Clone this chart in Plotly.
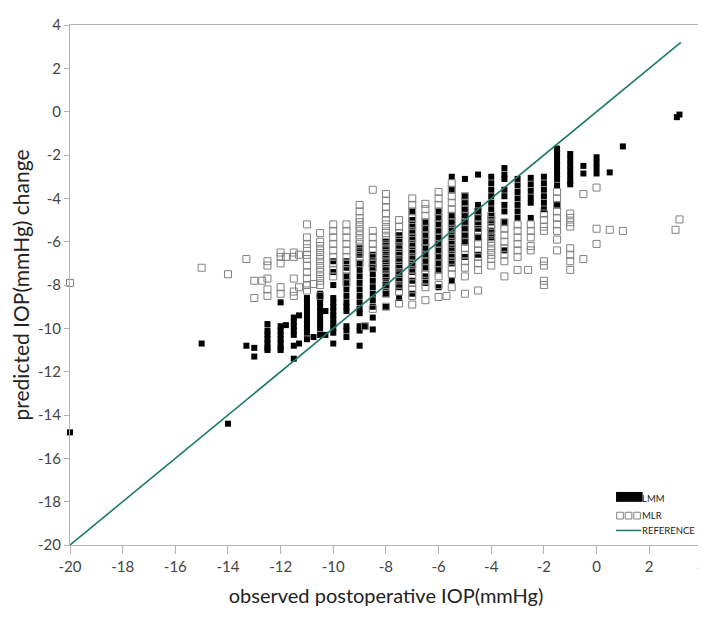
import plotly.graph_objects as go

# observed change (x) -> predicted change (y)
LMM_COLUMNS = {
    -20.0: [-14.8],
    -15.0: [-10.7],
    -14.0: [-14.4],
    -13.3: [-10.8],
    -13.0: [-10.9, -11.3],
    -12.5: [-9.8, -10.1, -10.3, -10.5, -10.7, -10.9, -11.0],
    -12.0: [-8.8, -9.9, -10.1, -10.3, -10.5, -10.7, -10.9, -11.0],
    -11.8: [-9.85],
    -11.5: [-9.5, -9.7, -9.9, -10.1, -10.3, -10.8, -11.4],
    -11.3: [-9.4, -10.7],
    -11.0: [-8.6, -8.8, -9.0, -9.2, -9.4, -9.6, -9.8, -10.0, -10.2, -10.5],
    -10.75: [-10.4],
    -10.5: [-8.4, -8.6, -8.8, -9.0, -9.2, -9.4, -9.6, -9.8, -10.0, -10.3],
    -10.3: [-9.2, -10.3],
    -10.0: [-6.9, -7.4, -8.0, -8.6, -8.8, -9.0, -9.2, -9.4, -9.6, -9.8, -10.0, -10.2, -10.7],
    -9.5: [-6.9, -7.2, -7.6, -7.9, -8.2, -8.5, -8.8, -9.0, -9.2, -9.9, -10.1, -10.4],
    -9.0: [-6.3, -6.6, -7.0, -7.3, -7.6, -7.9, -8.2, -8.5, -8.8, -9.1, -9.3, -9.9, -10.1, -10.8],
    -8.8: [-9.9],
    -8.5: [-6.6, -6.9, -7.2, -7.5, -7.8, -8.1, -8.4, -8.7, -9.0, -9.5, -10.05],
    -8.0: [-6.0, -6.3, -6.6, -6.9, -7.2, -7.5, -7.8, -8.1, -8.4, -9.0],
    -7.5: [-5.7, -6.0, -6.3, -6.6, -6.9, -7.2, -7.5, -7.8, -8.1, -8.6],
    -7.0: [-4.6, -5.0, -5.3, -5.6, -5.9, -6.2, -6.5, -6.8, -7.1, -7.4, -7.8, -8.4],
    -6.5: [-5.1, -5.4, -5.7, -6.0, -6.3, -6.6, -6.9, -7.2, -7.6, -7.9],
    -6.0: [-4.6, -4.9, -5.2, -5.5, -5.8, -6.1, -6.4, -6.7, -7.0, -7.3, -8.1],
    -5.5: [-3.0, -3.6, -4.8, -5.0, -5.2, -5.5, -5.8, -6.1, -6.4, -6.7, -7.0, -7.8],
    -5.0: [-3.1, -3.9, -4.2, -4.5, -4.8, -5.1, -5.4, -5.7, -6.0, -6.7],
    -4.5: [-2.9, -4.3, -4.5, -4.7, -4.9, -5.1, -5.4, -5.8, -6.6],
    -4.0: [-3.0, -3.3, -3.6, -3.9, -4.2, -4.5, -4.8, -5.1, -5.5, -5.8],
    -3.5: [-2.6, -2.9, -3.1, -3.6, -3.9, -4.3, -4.6, -5.1, -6.4],
    -3.0: [-3.1, -3.4, -3.7, -4.0, -4.3, -4.6, -4.9],
    -2.5: [-3.05, -3.35, -3.65, -3.95, -4.2, -4.9],
    -2.0: [-3.0, -3.3, -3.6, -3.9, -4.2, -4.5],
    -1.5: [-1.7, -1.9, -2.1, -2.3, -2.5, -2.7, -2.9, -3.1, -3.4, -4.3],
    -1.0: [-1.95, -2.2, -2.45, -2.7, -2.95, -3.2, -3.35],
    -0.5: [-2.5, -2.85],
    0.0: [-2.1, -2.35, -2.6, -2.85],
    0.5: [-2.8],
    1.0: [-1.6],
    3.05: [-0.25],
    3.15: [-0.13],
}

MLR_COLUMNS = {
    -20.0: [-7.9],
    -15.0: [-7.2],
    -14.0: [-7.5],
    -13.3: [-6.8],
    -13.0: [-7.8, -8.6],
    -12.7: [-7.8],
    -12.5: [-6.9, -7.1, -7.7, -8.2, -8.5],
    -12.0: [-6.5, -6.7, -7.0, -8.1, -8.4],
    -11.8: [-6.7],
    -11.5: [-6.5, -6.7, -7.7, -8.3, -8.5],
    -11.3: [-6.6, -8.1],
    -11.0: [-5.2, -5.8, -6.1, -6.3, -6.6, -6.8, -7.1, -7.4, -7.7, -8.0, -8.25],
    -10.75: [-7.95],
    -10.5: [-5.6, -6.0, -6.2, -6.4, -6.6, -6.8, -7.0, -7.2, -7.4, -7.6, -7.8, -8.0, -8.5],
    -10.0: [-5.2, -5.5, -5.8, -6.1, -6.4, -6.7, -7.0, -7.3, -7.6],
    -9.5: [-5.2, -5.5, -5.8, -6.1, -6.4, -6.7, -7.0, -7.3, -7.6, -7.9],
    -9.0: [-4.3, -4.6, -4.9, -5.1, -5.3, -5.5, -5.7, -5.9, -6.1, -6.3, -6.5, -6.7, -7.0],
    -8.8: [-9.9],
    -8.5: [-3.6, -5.5, -5.8, -6.1, -6.4, -6.7, -7.0, -7.2, -9.1],
    -8.0: [-3.8, -4.1, -4.4, -4.7, -5.0, -5.2, -5.4, -5.6, -5.8, -6.0, -6.2, -6.4,
           -6.6, -6.8, -7.0, -7.3, -7.6, -8.0, -8.4, -9.0],
    -7.5: [-5.0, -5.3, -5.6, -5.9, -6.2, -6.5, -6.8, -7.1, -7.4, -7.7, -8.0, -8.3, -8.85],
    -7.0: [-4.0, -4.3, -4.6, -4.9, -5.2, -5.5, -5.8, -6.1, -6.4, -6.7, -7.0, -7.3,
           -7.6, -7.9, -8.2, -8.5, -8.9],
    -6.5: [-4.25, -4.5, -4.8, -5.1, -5.4, -5.7, -6.0, -6.3, -6.6, -6.9, -7.2, -7.5,
           -7.8, -8.1, -8.7],
    -6.0: [-3.7, -4.0, -4.3, -4.6, -4.9, -5.2, -5.5, -5.8, -6.1, -6.4, -6.7, -7.0,
           -7.3, -7.6, -8.0, -8.55],
    -5.7: [-8.5],
    -5.5: [-3.3, -3.6, -3.9, -4.2, -4.5, -4.8, -5.1, -5.4, -5.7, -6.0, -6.3, -6.6,
           -6.9, -7.2, -7.5, -8.1],
    -5.0: [-3.9, -4.2, -4.5, -4.8, -5.1, -5.4, -5.7, -6.0, -6.3, -6.6, -6.9, -7.2,
           -7.6, -8.4],
    -4.5: [-4.6, -4.9, -5.2, -5.5, -5.8, -6.1, -6.4, -6.7, -7.0, -7.3, -8.25],
    -4.0: [-4.8, -5.0, -5.2, -5.4, -5.6, -5.8, -6.0, -6.2, -6.4, -6.6, -6.8, -7.1],
    -3.5: [-5.1, -5.4, -5.7, -6.0, -6.3, -6.6, -6.9, -7.6],
    -3.0: [-5.2, -5.5, -5.8, -6.1, -6.4, -6.7, -7.3],
    -2.6: [-7.3],
    -2.5: [-5.2, -5.5, -5.8, -6.2, -6.4],
    -2.0: [-4.7, -5.0, -5.3, -5.5, -6.9, -7.1, -7.8, -8.0],
    -1.5: [-3.7, -4.0, -4.3, -4.6, -4.9, -5.2, -5.5, -5.9, -6.4],
    -1.0: [-4.7, -4.9, -5.1, -5.3, -6.3, -6.6, -6.9, -7.3],
    -0.5: [-3.8, -6.8],
    0.0: [-3.5, -5.4, -6.1],
    0.5: [-5.45],
    1.0: [-5.5],
    3.0: [-5.45],
    3.15: [-4.97],
}

REF_X = [-20, 3.2]
REF_Y = [-20, 3.2]

X_TICKS = list(range(-20, 5, 2))
Y_TICKS = list(range(-20, 5, 2))

LINE_COLOR = "#1d7a6a"
MLR_COLOR = "#808080"
FONT = "Lato, sans-serif"


def flatten(columns):
    xs, ys = [], []
    for x, vals in columns.items():
        for y in vals:
            xs.append(x)
            ys.append(y)
    return xs, ys


lmm_x, lmm_y = flatten(LMM_COLUMNS)
mlr_x, mlr_y = flatten(MLR_COLUMNS)

fig = go.Figure()
fig.add_trace(go.Scatter(
    x=lmm_x, y=lmm_y, mode="markers", name="LMM",
    marker=dict(symbol="square", size=6, color="black"),
    cliponaxis=False,
))
fig.add_trace(go.Scatter(
    x=mlr_x, y=mlr_y, mode="markers", name="MLR",
    marker=dict(symbol="square-open", size=7, color=MLR_COLOR, line=dict(width=1)),
    cliponaxis=False,
))
fig.add_trace(go.Scatter(
    x=REF_X, y=REF_Y, mode="lines", name="REFERENCE",
    line=dict(color=LINE_COLOR, width=1.6),
))

# hand-drawn legend in the lower right corner
shapes = [
    dict(type="rect", xref="paper", yref="paper", x0=0.864, x1=0.906, y0=0.083, y1=0.102,
         fillcolor="black", line_width=0),
    dict(type="line", xref="paper", yref="paper", x0=0.864, x1=0.904, y0=0.028, y1=0.028,
         line=dict(color=LINE_COLOR, width=1.5)),
]
for i in range(3):
    x0 = 0.865 + i * 0.0135
    shapes.append(dict(type="rect", xref="paper", yref="paper", x0=x0, x1=x0 + 0.0105,
                       y0=0.050, y1=0.063, line=dict(color=MLR_COLOR, width=1)))

annotations = []
for label, ypos in [("LMM", 0.090), ("MLR", 0.057), ("REFERENCE", 0.028)]:
    annotations.append(dict(text=label, xref="paper", yref="paper", x=0.905, y=ypos,
                            xanchor="left", yanchor="middle", showarrow=False,
                            xshift=-2, font=dict(size=9.5, color="#222222", family=FONT)))

axis_style = dict(
    showgrid=False, zeroline=False, showline=True, mirror=True,
    linecolor="#b4b4b4", linewidth=1, ticks="outside", tickcolor="#b4b4b4",
    tickfont=dict(size=15, color="#444444", family=FONT),
    ticklabeloverflow="allow",
)

fig.update_layout(
    width=706, height=620,
    plot_bgcolor="white", paper_bgcolor="white",
    showlegend=False,
    margin=dict(l=62, r=8, t=7, b=83),
    shapes=shapes,
    annotations=annotations,
    xaxis=dict(axis_style, range=[-20, 4.005], tickvals=X_TICKS,
               ticktext=[str(v) for v in X_TICKS], ticklen=8,
               title=dict(text="observed postoperative IOP(mmHg)", standoff=14,
                          font=dict(size=20, color="#222222", family=FONT))),
    yaxis=dict(axis_style, range=[-20, 4.005], tickvals=Y_TICKS,
               ticktext=[str(v) for v in Y_TICKS], ticklen=5,
               title=dict(text="predicted IOP(mmHg) change", standoff=8,
                          font=dict(size=21, color="#222222", family=FONT))),
)

fig.write_html("out.html")
